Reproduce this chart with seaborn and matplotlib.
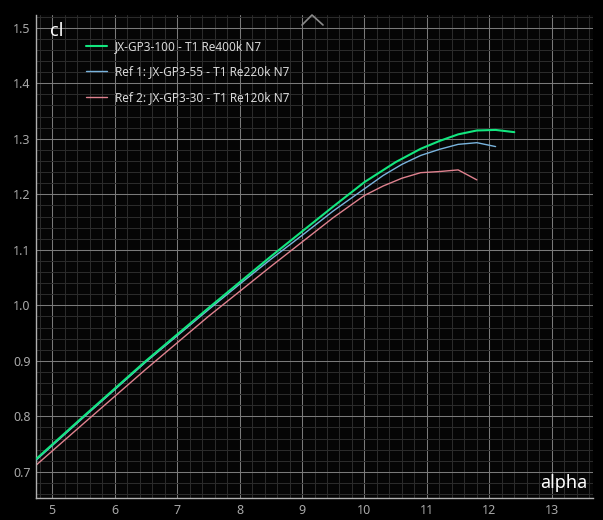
import seaborn as sns
import matplotlib.pyplot as plt
import pandas as pd
from matplotlib.ticker import MultipleLocator
from matplotlib.lines import Line2D

# polar data (alpha in deg, cl)
alpha_main = [4.75, 5.5, 6.5, 7.5, 8.5, 9.0, 9.5, 10.0, 10.5, 10.9, 11.2, 11.5, 11.8, 12.1, 12.4]
cl_main = [0.724, 0.800, 0.900, 0.995, 1.088, 1.133, 1.178, 1.222, 1.258, 1.282, 1.296, 1.308, 1.315, 1.316, 1.312]

alpha_ref1 = [4.75, 5.5, 6.5, 7.5, 8.0, 8.5, 9.0, 9.5, 10.0, 10.3, 10.6, 10.9, 11.2, 11.5, 11.8, 12.1]
cl_ref1 = [0.722, 0.798, 0.898, 0.992, 1.038, 1.083, 1.126, 1.170, 1.210, 1.234, 1.254, 1.270, 1.281, 1.290, 1.293, 1.286]

alpha_ref2 = [4.75, 5.5, 6.5, 7.5, 8.5, 9.0, 9.5, 10.0, 10.3, 10.6, 10.9, 11.2, 11.5, 11.8]
cl_ref2 = [0.713, 0.787, 0.885, 0.980, 1.070, 1.114, 1.158, 1.198, 1.215, 1.229, 1.239, 1.241, 1.244, 1.226]

labels = ["JX-GP3-100 - T1 Re400k N7",
          "Ref 1: JX-GP3-55 - T1 Re220k N7",
          "Ref 2: JX-GP3-30 - T1 Re120k N7"]
colors = ["#12e67f", "#79b4de", "#e0828f"]

sns.set_theme(style="dark")
plt.rcParams["font.family"] = ["Noto Sans", "DejaVu Sans"]

fig = plt.figure(figsize=(6.03, 5.20), dpi=100, facecolor="#000000")
ax = fig.add_axes([36 / 603, 22 / 520, 557 / 603, 483 / 520])
ax.set_facecolor("#050505")

series = [(alpha_ref2, cl_ref2, 1.0, 2), (alpha_ref1, cl_ref1, 1.0, 3), (alpha_main, cl_main, 1.5, 4)]
for i, (a, c, lw, z) in enumerate(series):
    df = pd.DataFrame({"alpha": a, "cl": c})
    sns.lineplot(data=df, x="alpha", y="cl", ax=ax, color=colors[2 - i],
                 linewidth=lw, sort=False, estimator=None, zorder=z)

ax.set_xlim(4.74, 13.66)
ax.set_ylim(0.653, 1.523)
ax.xaxis.set_major_locator(MultipleLocator(1))
ax.xaxis.set_minor_locator(MultipleLocator(0.2))
ax.yaxis.set_major_locator(MultipleLocator(0.1))
ax.yaxis.set_minor_locator(MultipleLocator(0.02))
ax.grid(which="major", color="#7a7a7a", linewidth=0.75)
ax.grid(which="minor", color="#2b2b2b", linewidth=0.75)
ax.set_axisbelow(True)
ax.tick_params(which="both", length=0, colors="#a8a8a8", labelsize=9, pad=4)
ax.set_xlabel("")
ax.set_ylabel("")
for side in ["top", "right"]:
    ax.spines[side].set_visible(False)
for side in ["left", "bottom"]:
    ax.spines[side].set_color("#b0b0b0")
    ax.spines[side].set_linewidth(1.0)

ax.text(0.025, 0.985, "cl", transform=ax.transAxes, color="white", fontsize=13,
        ha="left", va="top")
ax.text(0.99, 0.012, "alpha", transform=ax.transAxes, color="white", fontsize=13,
        ha="right", va="bottom")

handles = [Line2D([], [], color=colors[0], linewidth=1.5),
           Line2D([], [], color=colors[1], linewidth=1.0),
           Line2D([], [], color=colors[2], linewidth=1.0)]
leg = ax.legend(handles, labels, loc="upper left", bbox_to_anchor=(0.0898, 0.948),
                frameon=False, fontsize=8.5, labelcolor="#d8d8d8", borderpad=0,
                borderaxespad=0, handlelength=1.78, handletextpad=0.68,
                labelspacing=1.05)

# collapse caret at the top of the view
fig.add_artist(Line2D([302 / 603, 312 / 603, 323 / 603], [495 / 520, 505 / 520, 495 / 520],
                      color="#8a8a8a", linewidth=1.2))

fig.savefig("out.png", dpi=100, facecolor=fig.get_facecolor())
